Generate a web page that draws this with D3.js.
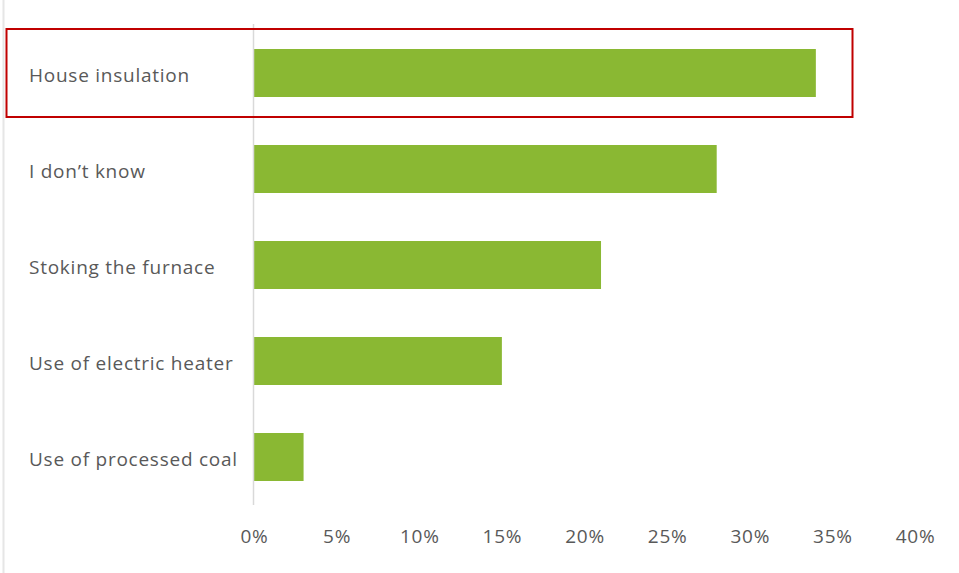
<!DOCTYPE html>
<html>
<head>
<meta charset="utf-8">
<script src="https://cdn.jsdelivr.net/npm/d3@7"></script>
<style>
  html, body { margin: 0; padding: 0; background: #fff; }
  svg { display: block; }
</style>
</head>
<body>
<svg id="chart" width="959" height="573"></svg>
<script>
// Answers and their share of respondents (%)
const categories = [
  "House insulation",
  "I don\u2019t know",
  "Stoking the furnace",
  "Use of electric heater",
  "Use of processed coal"
];
const values = [34, 28, 21, 15, 3];
const tickValues = [0, 5, 10, 15, 20, 25, 30, 35, 40];
const tickLabels = tickValues.map(d => d + "%");
const highlighted = ["House insulation"];

const svg = d3.select("#chart");
const W = 959, H = 573;
const plot = { left: 254, right: 915, top: 25, bottom: 505 };

const x = d3.scaleLinear().domain([0, 40]).range([plot.left, plot.right]);
const y = d3.scaleBand().domain(categories)
  .range([plot.top, plot.bottom]).paddingInner(0.5).paddingOuter(0.25);

const font = "'Open Sans', 'Noto Sans', sans-serif";
const textColor = "#595959";

// Outer frame edge on the left
svg.append("line")
  .attr("x1", 3.5).attr("x2", 3.5).attr("y1", 0).attr("y2", H)
  .attr("stroke", "#e6e6e6").attr("stroke-width", 2);

// Bars
svg.append("g").selectAll("rect")
  .data(categories)
  .join("rect")
  .attr("x", x(0))
  .attr("y", d => y(d))
  .attr("width", (d, i) => x(values[i]) - x(0))
  .attr("height", y.bandwidth())
  .attr("fill", "#8ab833");

// Vertical category axis line
svg.append("line")
  .attr("x1", x(0) - 0.5).attr("x2", x(0) - 0.5)
  .attr("y1", plot.top - 1).attr("y2", plot.bottom)
  .attr("stroke", "#d9d9d9").attr("stroke-width", 1.5);

// Category labels
svg.append("g").selectAll("text")
  .data(categories)
  .join("text")
  .attr("x", 29)
  .attr("y", d => y(d) + y.bandwidth() / 2 + 2)
  .attr("dy", "0.35em")
  .attr("font-family", font)
  .attr("font-size", 19)
  .attr("letter-spacing", "0.75px")
  .attr("fill", textColor)
  .text(d => d);

// Value axis (labels only)
const xAxis = d3.axisBottom(x)
  .tickValues(tickValues)
  .tickFormat((d, i) => tickLabels[i])
  .tickSize(0)
  .tickPadding(0);
const gx = svg.append("g")
  .attr("transform", `translate(0, 529)`)
  .call(xAxis);
gx.select(".domain").remove();
gx.selectAll("text")
  .attr("font-family", font)
  .attr("font-size", 19)
  .attr("letter-spacing", "0.75px")
  .attr("fill", textColor);

// Highlight frame around the top answer
highlighted.forEach(name => {
  svg.append("rect")
    .attr("x", 6.5)
    .attr("y", y(name) - 20)
    .attr("width", 846)
    .attr("height", y.bandwidth() + 40)
    .attr("fill", "none")
    .attr("stroke", "#c00000")
    .attr("stroke-width", 2);
});
</script>
</body>
</html>
